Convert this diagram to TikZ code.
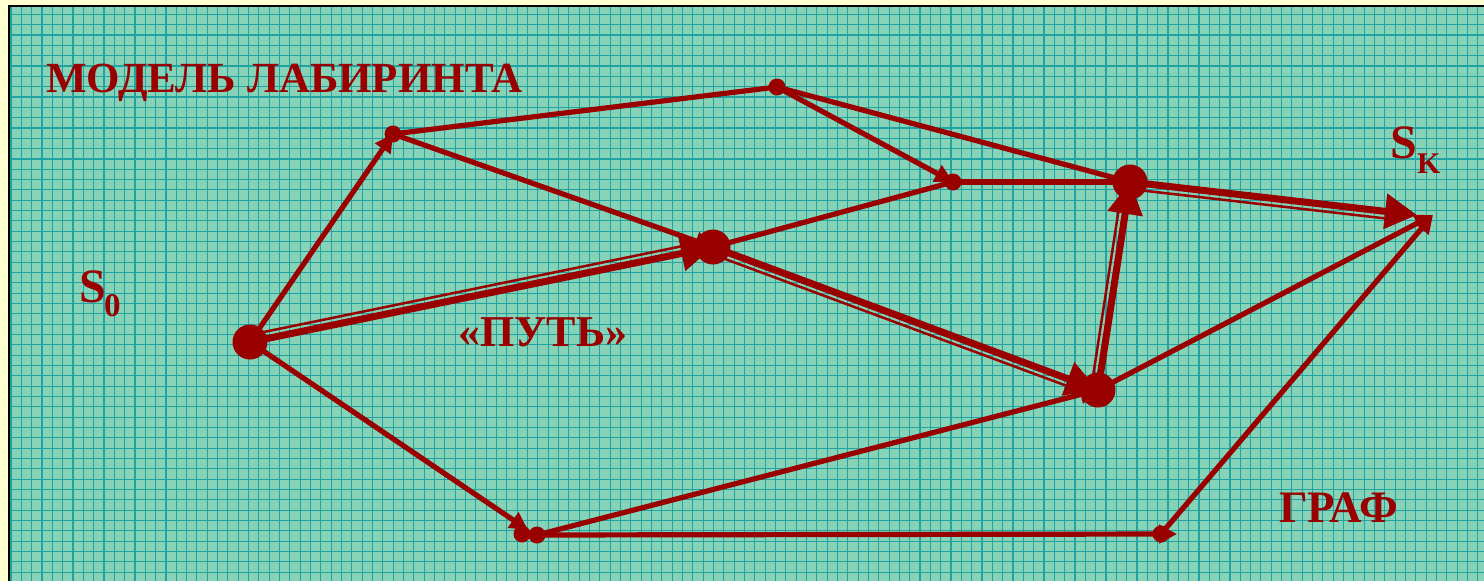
\documentclass[tikz,border=0pt]{standalone}
\usepackage{fontspec}
\setmainfont{Liberation Serif}
\usetikzlibrary{arrows.meta}
\definecolor{wine}{HTML}{990000}
\definecolor{paper}{HTML}{FFFFD0}
\definecolor{field}{HTML}{86D3B8}
\definecolor{rule}{HTML}{22A3A3}
\tikzset{
  link/.style={wine, line width=5.2pt},
  route/.style={wine, line width=7pt},
  routeside/.style={wine, line width=2.5pt},
  tip/.style={-{Triangle[length=18pt,width=18pt]}},
  bigtip/.style={-{Triangle[length=32pt,width=34pt]}},
  bigdot/.style={circle, fill=wine, inner sep=0pt, minimum size=35pt},
  smalldot/.style={circle, fill=wine, inner sep=0pt, minimum size=17pt},
  lab/.style={text=wine, inner sep=0pt, anchor=base west},
}
\begin{document}
\begin{tikzpicture}[x=1pt,y=-1pt]
\useasboundingbox (0,0) rectangle (1484,581);
% sheet of graph paper
\fill[paper] (0,0) rectangle (1484,581);
\fill[field] (9,6) rectangle (1484,581);
\begin{scope}
  \clip (9,6) rectangle (1484,581);
  \foreach \i in {0,...,143}
    \draw[rule, line width=1.1pt] ({11+10.33*\i},0) -- ({11+10.33*\i},581);
  \foreach \j in {0,...,56}
    \draw[rule, line width=1.1pt] (0,{4+10.33*\j}) -- (1484,{4+10.33*\j});
\end{scope}
\draw[black, line width=2pt] (9,581) -- (9,6) -- (1484,6);

% vertices of the graph
\coordinate (A) at (250,342);
\coordinate (B) at (393,134);
\coordinate (C) at (777,87);
\coordinate (D) at (713,247);
\coordinate (E) at (953,182);
\coordinate (F) at (1130,182);
\coordinate (G) at (1098,390);
\coordinate (H1) at (522,534);
\coordinate (H2) at (537,535);
\coordinate (I) at (1161,534);
\coordinate (SK) at (1433,215);
\coordinate (SKr) at (1417,215);

% ordinary edges
\draw[link, tip] (A) -- (B);
\draw[link] (B) -- (C);
\draw[link, tip] (B) -- (D);
\draw[link, tip] (C) -- (E);
\draw[link] (C) -- (F);
\draw[link] (D) -- (E);
\draw[link] (E) -- (F);
\draw[link, tip] (A) -- ([xshift=6,yshift=4]H1);
\draw[link, tip] (H2) -- (G);
\draw[link, tip] (H2) -- ([xshift=16]I);
\draw[link, tip] (I) -- (SK);
\draw[link, tip] (G) -- (SK);

% the route from S0 to SK
\draw[route, bigtip] (A) -- (D);
\draw[routeside, transform canvas={shift={(-1.4,-6.9)}}] (A) -- (D);
\draw[route, bigtip] (D) -- (G);
\draw[routeside, transform canvas={shift={(-2.4,6.6)}}] (D) -- (G);
\draw[route, bigtip] (G) -- (F);
\draw[routeside, transform canvas={shift={(-6.9,-1.1)}}] (G) -- (F);
\draw[route, bigtip] (F) -- (SKr);
\draw[routeside, shorten >=18pt, transform canvas={shift={(-0.7,7)}}] (F) -- (SKr);

% vertex dots
\node[bigdot] (dA) at (A) {};
\node[smalldot] (dB) at (B) {};
\node[smalldot] (dC) at (C) {};
\node[bigdot] (dD) at (D) {};
\node[smalldot] (dE) at (E) {};
\node[bigdot] (dF) at (F) {};
\node[bigdot] (dG) at (G) {};
\node[smalldot] (dH1) at (H1) {};
\node[smalldot] (dH2) at (H2) {};
\node[smalldot] (dI) at (I) {};

% labels
\node[lab, font=\fontsize{43}{43}\selectfont\bfseries] (title) at (46,92) {МОДЕЛЬ ЛАБИРИНТА};
\node[lab, font=\fontsize{48}{48}\selectfont\bfseries] (s0) at (79,302.5) {S};
\node[lab, font=\fontsize{33}{33}\selectfont\bfseries] (s0i) at (104,316.5) {0};
\node[lab, font=\fontsize{48}{48}\selectfont\bfseries] (sk) at (1390,158.5) {S};
\node[lab, font=\fontsize{30}{30}\selectfont\bfseries] (ski) at (1417,173) {K};
\node[lab, font=\fontsize{44}{44}\selectfont\bfseries] (path) at (458,346) {«ПУТЬ»};
\node[lab, font=\fontsize{45}{45}\selectfont\bfseries] (graph) at (1279,522) {ГРАФ};
\end{tikzpicture}
\end{document}
